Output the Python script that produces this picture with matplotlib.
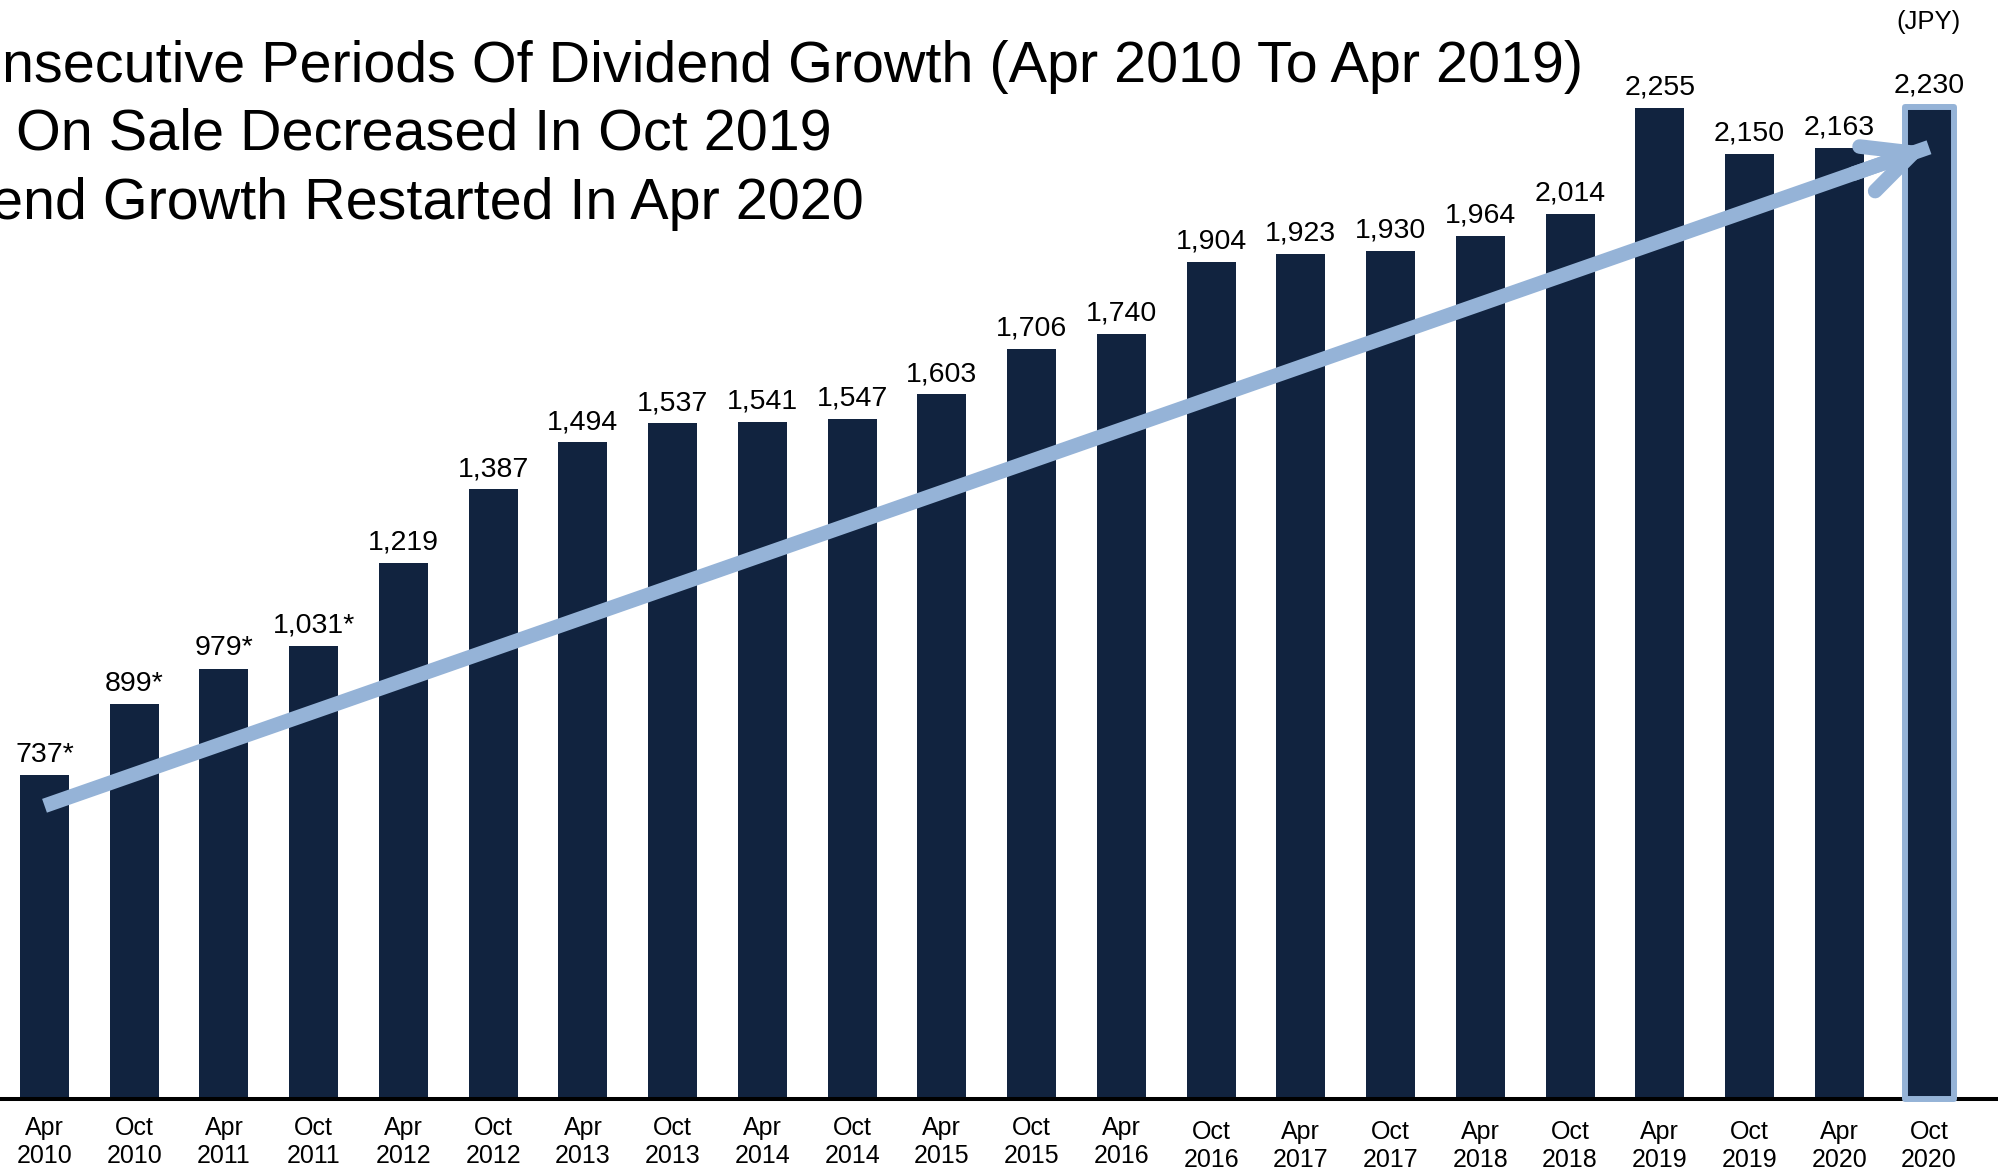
import numpy as np
import matplotlib
matplotlib.use('Agg')
import matplotlib.pyplot as plt
from matplotlib.patches import FancyArrowPatch, Rectangle

plt.rcParams['font.family'] = ['Liberation Sans', 'DejaVu Sans']

# ---------------- data ----------------
periods = ['Apr\n2010', 'Oct\n2010', 'Apr\n2011', 'Oct\n2011', 'Apr\n2012', 'Oct\n2012',
           'Apr\n2013', 'Oct\n2013', 'Apr\n2014', 'Oct\n2014', 'Apr\n2015', 'Oct\n2015',
           'Apr\n2016', 'Oct\n2016', 'Apr\n2017', 'Oct\n2017', 'Apr\n2018', 'Oct\n2018',
           'Apr\n2019', 'Oct\n2019', 'Apr\n2020', 'Oct\n2020']
dividends = [737, 899, 979, 1031, 1219, 1387, 1494, 1537, 1541, 1547, 1603, 1706,
             1740, 1904, 1923, 1930, 1964, 2014, 2255, 2150, 2163, 2230]
footnote = [True, True, True, True] + [False] * 18
title_lines = ['nsecutive Periods Of Dividend Growth (Apr 2010 To Apr 2019)',
               'On Sale Decreased In Oct 2019',
               'end Growth Restarted In Apr 2020']
unit_label = '(JPY)'
trend_start_value = 667
trend_end_value = 2165

BAR = '#11233f'
ACCENT = '#95b3d7'
BAR_W = 0.546
HILITE_PAD = 27

W, H = 1999, 1171
fig = plt.figure(figsize=(W / 100, H / 100), dpi=100)
ax = fig.add_axes([0, 72 / H, 1, 1099 / H])
x = np.arange(len(dividends))
bars = ax.bar(x, dividends, width=BAR_W, color=BAR, zorder=2, linewidth=0)

# highlight frame around the latest bar
li = len(dividends) - 1
frame = Rectangle((x[li] - BAR_W / 2, 0), BAR_W, dividends[li] + HILITE_PAD,
                  facecolor=BAR, edgecolor=ACCENT, linewidth=4.3,
                  joinstyle='round', zorder=4, clip_on=False)
ax.add_patch(frame)

ax.set_xlim(-0.496, 21.78)
ax.set_ylim(0, 2500)
ax.axis('off')
ax.axhline(0, color='black', lw=2.9, zorder=3, clip_on=False)

# value labels
for i, (v, f) in enumerate(zip(dividends, footnote)):
    lab = f"{v:,}" + ("*" if f else "")
    off = 18.5 if i == li else 9.5
    ax.annotate(lab, (i, v), xytext=(0, off), textcoords='offset points',
                ha='center', va='baseline', fontsize=20.5, color='black', zorder=5)

# x labels
for i, p in enumerate(periods):
    mon, yr = p.split('\n')
    extra = 3 if i >= 13 else 0
    ax.annotate(mon, (i, 0), xycoords=('data', 'axes fraction'),
                xytext=(0, -26 - extra), textcoords='offset points',
                ha='center', va='baseline', fontsize=18, annotation_clip=False)
    ax.annotate(yr, (i, 0), xycoords=('data', 'axes fraction'),
                xytext=(0, -46 - extra), textcoords='offset points',
                ha='center', va='baseline', fontsize=18, annotation_clip=False)

# trend arrow
ax.plot([0, li], [trend_start_value, trend_end_value], color=ACCENT, lw=10.5,
        solid_capstyle='butt', zorder=6)
dx, dy = li, trend_end_value - trend_start_value
t = 0.04
head = FancyArrowPatch((li - dx * t, trend_end_value - dy * t), (li, trend_end_value),
                       arrowstyle='->,head_length=1.75,head_width=0.85', mutation_scale=20,
                       lw=10.5, color=ACCENT, capstyle='round', joinstyle='round',
                       shrinkA=0, shrinkB=0, zorder=6)
ax.add_patch(head)

# titles
fig.text(2 / W, 1 - 82 / H, title_lines[0], fontsize=41.4, ha='left', va='baseline')
fig.text(16 / W, 1 - 149 / H, title_lines[1], fontsize=41.4, ha='left', va='baseline')
fig.text(-9 / W, 1 - 219 / H, title_lines[2], fontsize=41.4, ha='left', va='baseline')
fig.text(1929 / W, 1 - 22 / H, unit_label, fontsize=18.5, ha='center', va='center')

fig.savefig('out.png', dpi=100)
